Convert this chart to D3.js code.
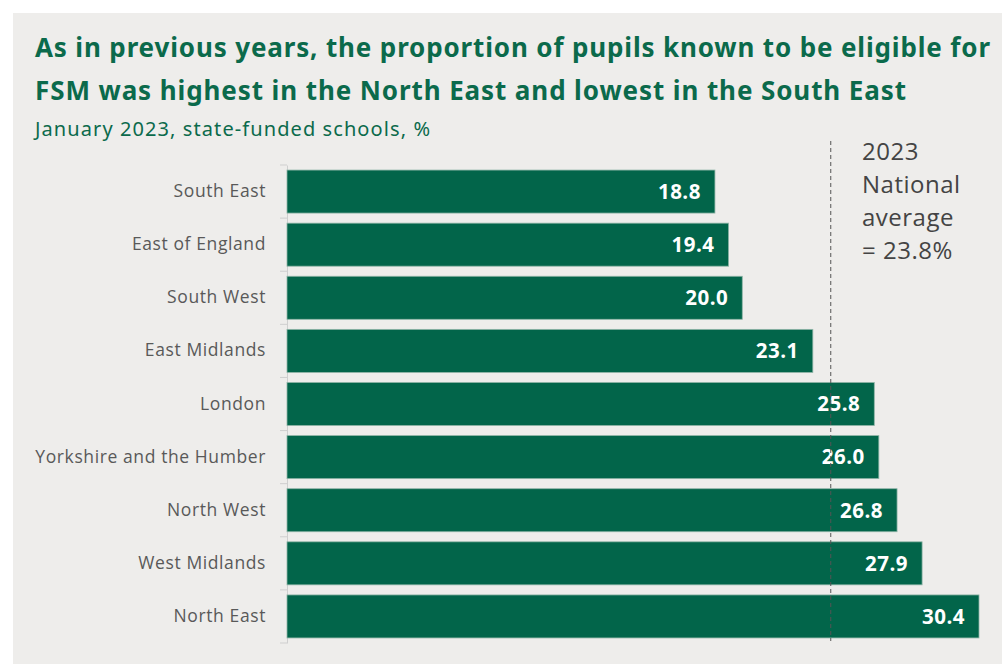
<!DOCTYPE html>
<html>
<head>
<meta charset="utf-8">
<script src="https://cdn.jsdelivr.net/npm/d3@7"></script>
<style>
  body { margin: 0; background: #ffffff; }
  svg { display: block; }
</style>
</head>
<body>
<div id="chart"></div>
<script>
// Data
var regions = ["South East", "East of England", "South West", "East Midlands", "London",
               "Yorkshire and the Humber", "North West", "West Midlands", "North East"];
var fsmShare = [18.8, 19.4, 20.0, 23.1, 25.8, 26.0, 26.8, 27.9, 30.4];
var nationalAverage = 23.8;
var titleLines = ["As in previous years, the proportion of pupils known to be eligible for",
                  "FSM was highest in the North East and lowest in the South East"];
var subtitle = "January 2023, state-funded schools, %";
var noteLines = ["2023", "National", "average", "= 23.8%"];

var W = 1002, H = 664,
    green = "#02654a",
    font_family = "'Open Sans', 'Noto Sans', sans-serif";

var svg = d3.select("#chart").append("svg")
    .attr("width", W)
    .attr("height", H);

// Panel background
svg.append("rect")
    .attr("x", 13).attr("y", 13)
    .attr("width", W - 13).attr("height", H - 13)
    .attr("fill", "#eeedeb");

// Title + subtitle (stretched to the reference widths)
var titleWidths = [955, 871];
svg.append("g").selectAll("text")
  .data(titleLines)
  .enter().append("text")
    .attr("x", 35)
    .attr("y", function(d, i) { return 57 + i * 43; })
    .attr("font-family", "'Noto Sans', sans-serif")
    .attr("font-weight", "bold")
    .attr("font-size", "26px")
    .attr("fill", "#0b6a4b")
    .attr("textLength", function(d, i) { return titleWidths[i]; })
    .attr("lengthAdjust", "spacing")
    .text(function(d) { return d; });

svg.append("text")
    .attr("x", 35).attr("y", 136)
    .attr("font-family", "'Noto Sans', sans-serif")
    .attr("font-size", "20px")
    .attr("fill", "#0b6a4b")
    .attr("textLength", 395)
    .attr("lengthAdjust", "spacing")
    .text(subtitle);

// Scales
var xScale = d3.scaleLinear()
    .domain([0, d3.max(fsmShare)])
    .range([287, 979]);

var yScale = d3.scaleBand()
    .domain(regions)
    .range([165, 643])
    .paddingInner(0.19)
    .paddingOuter(0.095);

// Category axis
var yAxis = svg.append("g")
    .attr("transform", "translate(287,0)")
    .call(d3.axisLeft(yScale).tickSize(0).tickPadding(21));

yAxis.select(".domain").attr("stroke", "#cfcfcf");
yAxis.selectAll("text")
    .attr("font-family", font_family)
    .attr("font-size", "17.5px")
    .attr("letter-spacing", "0.6px")
    .attr("fill", "#595959");

// Tick marks at band boundaries
var boundaries = regions.map(function(d) { return yScale(d) - yScale.step() * yScale.paddingInner() / 2; });
boundaries.push(yScale(regions[regions.length - 1]) + yScale.bandwidth() + yScale.step() * yScale.paddingInner() / 2);
svg.append("g").selectAll("line")
  .data(boundaries)
  .enter().append("line")
    .attr("x1", 280).attr("x2", 287)
    .attr("y1", function(d) { return d; })
    .attr("y2", function(d) { return d; })
    .attr("stroke", "#cfcfcf");

// Bars
var bars = svg.append("g").selectAll("g")
  .data(regions)
  .enter().append("g");

bars.append("rect")
    .attr("x", xScale(0))
    .attr("y", function(d) { return yScale(d); })
    .attr("width", function(d, i) { return xScale(fsmShare[i]) - xScale(0); })
    .attr("height", yScale.bandwidth())
    .attr("fill", green)
    .attr("stroke", "#8fb5a7")
    .attr("stroke-width", 0.8);

bars.append("text")
    .attr("x", function(d, i) { return xScale(fsmShare[i]) - 14; })
    .attr("y", function(d) { return yScale(d) + yScale.bandwidth() / 2; })
    .attr("dy", "0.36em")
    .attr("text-anchor", "end")
    .attr("font-family", font_family)
    .attr("font-weight", "bold")
    .attr("font-size", "20.5px")
    .attr("letter-spacing", "0.5px")
    .attr("fill", "#ffffff")
    .text(function(d, i) { return fsmShare[i].toFixed(1); });

// National average line
svg.append("line")
    .attr("x1", xScale(nationalAverage) + 2).attr("x2", xScale(nationalAverage) + 2)
    .attr("y1", 141).attr("y2", 641)
    .attr("stroke", "#555555")
    .attr("stroke-width", 1)
    .attr("stroke-dasharray", "4,3");

svg.append("g").selectAll("text")
  .data(noteLines)
  .enter().append("text")
    .attr("x", 862)
    .attr("y", function(d, i) { return 160 + i * 33; })
    .attr("font-family", font_family)
    .attr("font-size", "24px")
    .attr("letter-spacing", "0.5px")
    .attr("fill", "#444444")
    .text(function(d) { return d; });
</script>
</body>
</html>
